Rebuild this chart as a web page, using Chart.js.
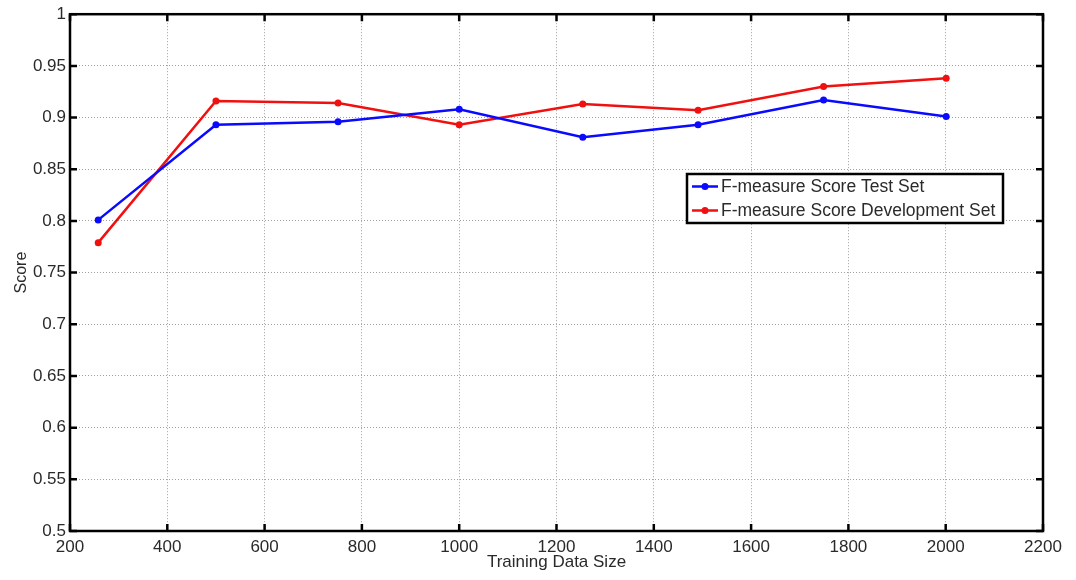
<!DOCTYPE html>
<html>
<head>
<meta charset="utf-8">
<script src="https://cdn.jsdelivr.net/npm/chart.js@4.4.1/dist/chart.umd.min.js"></script>
<style>
  html, body { margin: 0; padding: 0; background: #fff; }
  #wrap { width: 1076px; height: 580px; }
</style>
</head>
<body>
<div id="wrap"><canvas id="c" width="1076" height="580"></canvas></div>
<script>
// Training set sizes and F-measure scores
const trainingSizes = [258, 500, 751, 1000, 1254, 1491, 1749, 2001];
const testScores = [0.801, 0.893, 0.896, 0.908, 0.881, 0.893, 0.917, 0.901];
const devScores  = [0.779, 0.916, 0.914, 0.893, 0.913, 0.907, 0.930, 0.938];
const seriesLabels = ['F-measure Score Test Set', 'F-measure Score Development Set'];
const xTicks = [200, 400, 600, 800, 1000, 1200, 1400, 1600, 1800, 2000, 2200];
const yTicks = [0.5, 0.55, 0.6, 0.65, 0.7, 0.75, 0.8, 0.85, 0.9, 0.95, 1];

const FONT = '"Liberation Sans", Arial, Helvetica, sans-serif';
const TEXT = '#2a2a2a';

function pts(ys) { return trainingSizes.map((x, i) => ({ x, y: ys[i] })); }

// Boxed frame with inward tick marks on all four sides, plus an inset legend
const framePlugin = {
  id: 'frame',
  afterDatasetsDraw(chart) {
    const { ctx, chartArea: a, scales } = chart;
    ctx.save();
    ctx.strokeStyle = '#000';
    ctx.lineWidth = 2.5;
    ctx.strokeRect(a.left, a.top, a.right - a.left, a.bottom - a.top);
    const tl = 7;
    ctx.beginPath();
    xTicks.forEach(v => {
      const px = scales.x.getPixelForValue(v);
      ctx.moveTo(px, a.bottom); ctx.lineTo(px, a.bottom - tl);
      ctx.moveTo(px, a.top); ctx.lineTo(px, a.top + tl);
    });
    yTicks.forEach(v => {
      const py = scales.y.getPixelForValue(v);
      ctx.moveTo(a.left, py); ctx.lineTo(a.left + tl, py);
      ctx.moveTo(a.right, py); ctx.lineTo(a.right - tl, py);
    });
    ctx.stroke();

    // legend
    const bx = 687, by = 174, bw = 316, bh = 49;
    ctx.fillStyle = '#fff';
    ctx.fillRect(bx, by, bw, bh);
    ctx.lineWidth = 2.5;
    ctx.strokeStyle = '#000';
    ctx.strokeRect(bx, by, bw, bh);
    ctx.font = '17.5px ' + FONT;
    ctx.textBaseline = 'middle';
    chart.data.datasets.forEach((ds, i) => {
      const cy = by + 12.5 + i * 24;
      ctx.strokeStyle = ds.borderColor;
      ctx.lineWidth = 2.5;
      ctx.beginPath(); ctx.moveTo(bx + 5, cy); ctx.lineTo(bx + 31, cy); ctx.stroke();
      ctx.fillStyle = ds.borderColor;
      ctx.beginPath(); ctx.arc(bx + 18, cy, 3.5, 0, Math.PI * 2); ctx.fill();
      ctx.fillStyle = TEXT;
      ctx.fillText(ds.label, bx + 34, cy + 1);
    });
    ctx.restore();
  }
};

new Chart(document.getElementById('c'), {
  type: 'line',
  data: {
    datasets: [
      { label: seriesLabels[0], data: pts(testScores), borderColor: '#0a0aff', backgroundColor: '#0a0aff',
        borderWidth: 2.5, pointRadius: 3.5, pointBorderWidth: 0, tension: 0 },
      { label: seriesLabels[1], data: pts(devScores), borderColor: '#f01010', backgroundColor: '#f01010',
        borderWidth: 2.5, pointRadius: 3.5, pointBorderWidth: 0, tension: 0 }
    ]
  },
  options: {
    responsive: false,
    animation: false,
    devicePixelRatio: 1,
    layout: { padding: { top: 14, right: 33, left: 0, bottom: 0 } },
    plugins: { legend: { display: false }, tooltip: { enabled: false } },
    scales: {
      x: {
        type: 'linear', min: 200, max: 2200,
        afterBuildTicks: s => { s.ticks = xTicks.map(v => ({ value: v })); },
        afterFit: s => { s.height = 49; },
        grid: { color: '#a0a0a0', lineWidth: 1, drawTicks: false },
        border: { display: false, dash: [1, 2] },
        ticks: { font: { family: FONT, size: 17 }, color: TEXT, padding: 6, maxRotation: 0,
                 callback: v => String(v) },
        title: { display: true, text: 'Training Data Size', font: { family: FONT, size: 17 }, color: TEXT,
                 padding: { top: 0, bottom: 7 } }
      },
      y: {
        type: 'linear', min: 0.5, max: 1,
        afterBuildTicks: s => { s.ticks = yTicks.map(v => ({ value: v })); },
        afterFit: s => { s.width = 70; },
        grid: { color: '#a0a0a0', lineWidth: 1, drawTicks: false },
        border: { display: false, dash: [1, 2] },
        ticks: { font: { family: FONT, size: 17 }, color: TEXT, padding: 4,
                 callback: v => String(Number(v.toFixed(2))) },
        title: { display: true, text: 'Score', font: { family: FONT, size: 16 }, color: TEXT,
                 padding: { top: 12, bottom: 0 } }
      }
    }
  },
  plugins: [framePlugin, {
    id: 'dashGrid',
    beforeDraw(chart) {
      ['x', 'y'].forEach(k => { chart.scales[k].options.grid.borderDash = [1, 2]; });
    }
  }]
});
</script>
</body>
</html>
